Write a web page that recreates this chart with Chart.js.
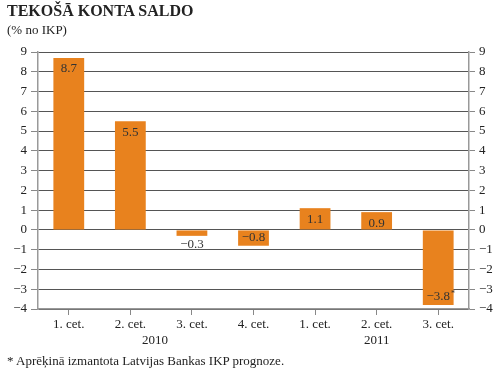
<!DOCTYPE html>
<html>
<head>
<meta charset="utf-8">
<script src="https://cdn.jsdelivr.net/npm/chart.js@4.4.0/dist/chart.umd.min.js"></script>
<style>
  body { margin: 0; background: #fff; }
  #wrap { position: relative; width: 500px; height: 376px; font-family: "Liberation Serif", "DejaVu Serif", serif; color: #222; }
  #title { position: absolute; left: 7px; top: 2px; font-size: 16px; font-weight: bold; }
  #sub { position: absolute; left: 7px; top: 22px; font-size: 13px; }
  #note { position: absolute; left: 7px; top: 353px; font-size: 13px; }
  canvas { position: absolute; left: 0; top: 0; }
</style>
</head>
<body>
<div id="wrap">
  <canvas id="chart" width="500" height="376"></canvas>
  <div id="title">TEKOŠĀ KONTA SALDO</div>
  <div id="sub">(% no IKP)</div>
  <div id="note">* Aprēķinā izmantota Latvijas Bankas IKP prognoze.</div>
</div>
<script>
const quarters = ['1. cet.', '2. cet.', '3. cet.', '4. cet.', '1. cet.', '2. cet.', '3. cet.'];
const balance = [8.7, 5.5, -0.3, -0.8, 1.1, 0.9, -3.8];
const balanceNotes = ['', '', '', '', '', '', '*'];
const years = ['2010', '2011'];
const yearCenters = [1.4, 5];

const minus = v => String(v).replace('-', '\u2212');
const serif = '"Liberation Serif", "DejaVu Serif", serif';

const labelsPlugin = {
  id: 'labels',
  afterDatasetsDraw(chart) {
    const ctx = chart.ctx;
    const meta = chart.getDatasetMeta(0);
    ctx.save();
    ctx.font = '13px ' + serif;
    ctx.fillStyle = '#333';
    ctx.textAlign = 'center';
    ctx.textBaseline = 'middle';
    meta.data.forEach((bar, i) => {
      const v = balance[i];
      let y;
      if (v >= 0) y = bar.y + 11;
      else if (Math.abs(v) < 0.5) y = bar.y + 9;
      else y = bar.y - 8;
      const txt = minus(v.toFixed(1));
      ctx.fillText(txt, bar.x, y);
      if (balanceNotes[i]) {
        const w = ctx.measureText(txt).width;
        ctx.font = '8px ' + serif;
        ctx.fillText(balanceNotes[i], bar.x + w / 2 + 3, y - 3);
        ctx.font = '13px ' + serif;
      }
    });
    const x = chart.scales.x;
    ctx.font = '13px ' + serif;
    ctx.fillStyle = '#222';
    years.forEach((yr, i) => {
      ctx.fillText(yr, x.getPixelForValue(yearCenters[i]), 341);
    });
    ctx.restore();
  }
};

new Chart(document.getElementById('chart'), {
  type: 'bar',
  data: {
    labels: quarters,
    datasets: [{
      data: balance,
      backgroundColor: '#E8821E',
      borderWidth: 0,
      barPercentage: 0.5,
      categoryPercentage: 1
    }]
  },
  options: {
    responsive: false,
    animation: false,
    layout: { padding: { top: 52, left: 0, right: 0, bottom: 0 } },
    plugins: { legend: { display: false }, tooltip: { enabled: false } },
    scales: {
      x: {
        offset: true,
        afterFit: s => { s.height = 67; },
        grid: { drawOnChartArea: false, offset: false, tickLength: 6, color: '#888' },
        border: { color: '#999', width: 1.5 },
        ticks: { color: '#222', font: { family: serif, size: 13 }, padding: 2, maxRotation: 0 }
      },
      y: {
        min: -4, max: 9,
        afterFit: s => { s.width = 38; },
        grid: { color: '#555', tickLength: 7, tickColor: '#888' },
        border: { color: '#999', width: 1.5 },
        ticks: { stepSize: 1, color: '#222', font: { family: serif, size: 13 }, padding: 4, callback: v => minus(v) }
      },
      y2: {
        position: 'right',
        min: -4, max: 9,
        afterFit: s => { s.width = 31; },
        grid: { drawOnChartArea: false, tickLength: 6, color: '#888' },
        border: { color: '#999', width: 1.5 },
        ticks: { stepSize: 1, color: '#222', font: { family: serif, size: 13 }, padding: 4, callback: v => minus(v) }
      }
    }
  },
  plugins: [labelsPlugin]
});
</script>
</body>
</html>
